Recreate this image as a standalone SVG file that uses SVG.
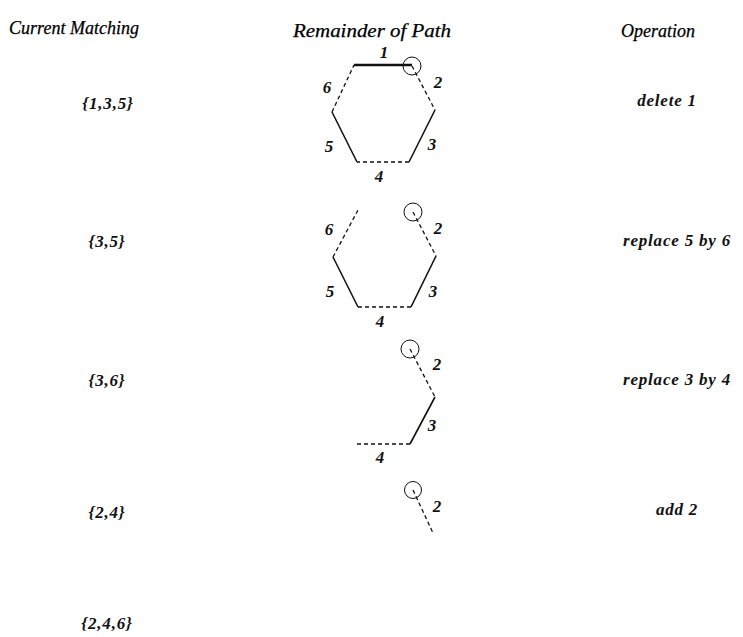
<svg xmlns="http://www.w3.org/2000/svg" width="743" height="637" viewBox="0 0 743 637">
<style>
.hdr{font-family:"Liberation Serif",serif;font-style:italic;font-size:18px;fill:#000;text-anchor:middle;stroke:#000;stroke-width:0.25}
.lbl{font-family:"Liberation Serif",serif;font-style:italic;font-weight:bold;font-size:17px;fill:#111;text-anchor:middle;letter-spacing:0.8px}
.num{font-family:"Liberation Serif",serif;font-style:italic;font-weight:bold;font-size:17px;fill:#111;text-anchor:middle}
.solid{stroke:#111;stroke-width:1.6;fill:none}
.thick{stroke:#111;stroke-width:2.4;fill:none}
.dash{stroke:#111;stroke-width:1.3;fill:none;stroke-dasharray:4 3}
.circ{stroke:#111;stroke-width:1;fill:none}
</style>
<rect width="743" height="637" fill="#fff"/>
<g id="headers">
<text class="hdr" x="74" y="34">Current Matching</text>
<text class="hdr" x="372" y="37" textLength="158" lengthAdjust="spacingAndGlyphs">Remainder of Path</text>
<text class="hdr" x="658" y="37">Operation</text>
</g>
<g id="matchings">
<text class="lbl" x="108" y="109">{1,3,5}</text>
<text class="lbl" x="107" y="247">{3,5}</text>
<text class="lbl" x="107" y="386">{3,6}</text>
<text class="lbl" x="107" y="518">{2,4}</text>
<text class="lbl" x="107" y="629">{2,4,6}</text>
</g>
<g id="operations">
<text class="lbl" x="667" y="106">delete 1</text>
<text class="lbl" x="677" y="246">replace 5 by 6</text>
<text class="lbl" x="677" y="385">replace 3 by 4</text>
<text class="lbl" x="677" y="515">add 2</text>
</g>
<g id="connectors">
<g id="path1">
<line class="thick" x1="354" y1="65" x2="412" y2="65"/>
<circle class="circ" cx="412" cy="66" r="9"/>
<line class="dash" x1="412" y1="66" x2="435" y2="110"/>
<line class="solid" x1="435" y1="110" x2="409" y2="162"/>
<line class="dash" x1="409" y1="162" x2="357" y2="162"/>
<line class="solid" x1="357" y1="162" x2="332" y2="112"/>
<line class="dash" x1="332" y1="112" x2="354" y2="65"/>
</g>
<g id="path2">
<circle class="circ" cx="413" cy="212" r="9"/>
<line class="dash" x1="413" y1="212" x2="436" y2="256"/>
<line class="solid" x1="436" y1="256" x2="411" y2="307"/>
<line class="dash" x1="411" y1="307" x2="358" y2="307"/>
<line class="solid" x1="358" y1="307" x2="333" y2="257"/>
<line class="dash" x1="333" y1="257" x2="358" y2="210"/>
</g>
<g id="path3">
<circle class="circ" cx="410" cy="349" r="9"/>
<line class="dash" x1="410" y1="349" x2="435" y2="397"/>
<line class="solid" x1="435" y1="397" x2="410" y2="444"/>
<line class="dash" x1="410" y1="444" x2="354" y2="444"/>
</g>
<g id="path4">
<circle class="circ" cx="413" cy="490" r="8.5"/>
<line class="dash" x1="413" y1="490" x2="433" y2="533"/>
</g>
</g>
<g id="edge-labels">
<text class="num" x="384" y="58">1</text>
<text class="num" x="438" y="88">2</text>
<text class="num" x="432" y="150">3</text>
<text class="num" x="379" y="182">4</text>
<text class="num" x="329" y="152">5</text>
<text class="num" x="327" y="93">6</text>
<text class="num" x="438" y="234">2</text>
<text class="num" x="433" y="297">3</text>
<text class="num" x="380" y="327">4</text>
<text class="num" x="330" y="297">5</text>
<text class="num" x="329" y="235">6</text>
<text class="num" x="437" y="370">2</text>
<text class="num" x="432" y="431">3</text>
<text class="num" x="380" y="463">4</text>
<text class="num" x="437" y="512">2</text>
</g>
</svg>
